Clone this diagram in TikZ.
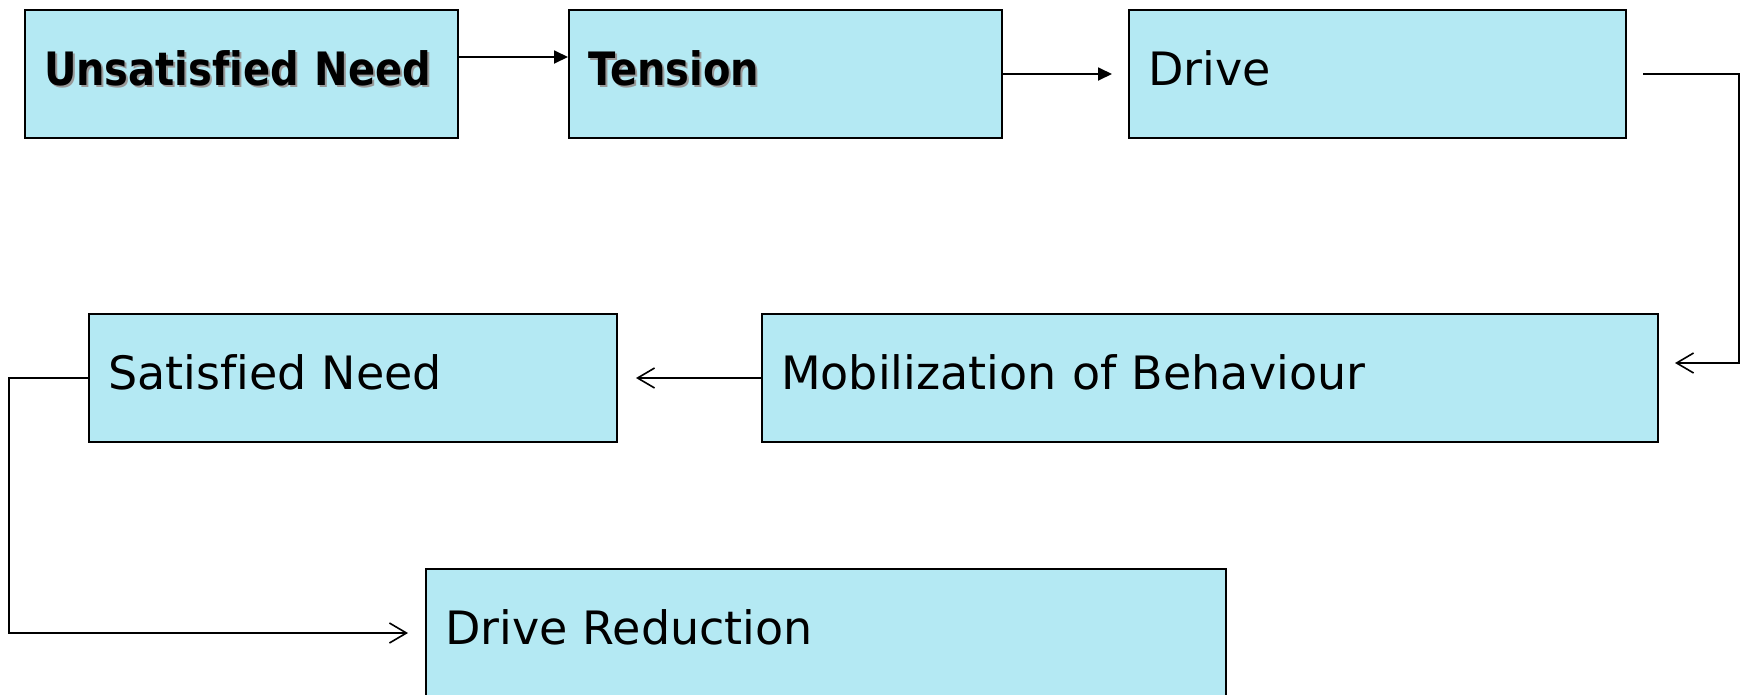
\documentclass[tikz,border=0pt]{standalone}
\usepackage{fontspec}
\setmainfont[Ligatures=NoCommon]{DejaVu Sans}
\newfontfamily\bcond[FakeStretch=0.87,Ligatures=NoCommon]{DejaVu Sans Bold}
\usetikzlibrary{arrows.meta}
\definecolor{boxfill}{RGB}{180,233,243}
\newcommand\shtext[1]{\mbox{\rlap{\hspace{2pt}\raisebox{-2.5pt}{\textcolor{black!40}{#1}}}#1}}
\begin{document}
\begin{tikzpicture}[x=1pt,y=-1pt,
  box/.style={draw=black, line width=2pt, fill=boxfill, rectangle, anchor=north west,
    inner xsep=19pt, inner ysep=0pt, text height=75pt, text depth=53pt, align=left,
    font=\fontsize{46}{50}\selectfont},
  boldtxt/.style={font=\fontsize{46}{50}\selectfont\bcond},
  filltip/.style={line width=1.8pt, -{Triangle[length=14pt,width=13pt]}},
  opentip/.style={line width=1.8pt, -{Straight Barb[length=17pt,width=20pt,line width=1.6pt]}}]
\useasboundingbox (0,0) rectangle (1744,694);
\node[box, boldtxt, text width=395pt] (b1) at (24,9) {\shtext{Unsatisfied Need}};
\node[box, boldtxt, text width=395pt] (b2) at (568,9) {\shtext{Tension}};
\node[box, text width=459pt] (b3) at (1128,9) {Drive};
\node[box, text width=490pt] (b4) at (88,313) {Satisfied Need};
\node[box, text width=858pt] (b5) at (761,313) {Mobilization of Behaviour};
\node[box, text width=762pt] (b6) at (425,568) {Drive Reduction};
\draw[filltip] ([yshift=17pt]b1.east) -- ([yshift=17pt]b2.west);
\draw[filltip] (b2.east) -- ([xshift=-16pt]b3.west);
\draw[opentip] ([xshift=16pt]b3.east) -- ++(96,0) |- ([xshift=16pt,yshift=15pt]b5.east);
\draw[opentip] (b5.west) -- ([xshift=18pt]b4.east);
\draw[opentip] (b4.west) -- ++(-79,0) |- ([xshift=-17pt]b6.west);
\end{tikzpicture}
\end{document}
